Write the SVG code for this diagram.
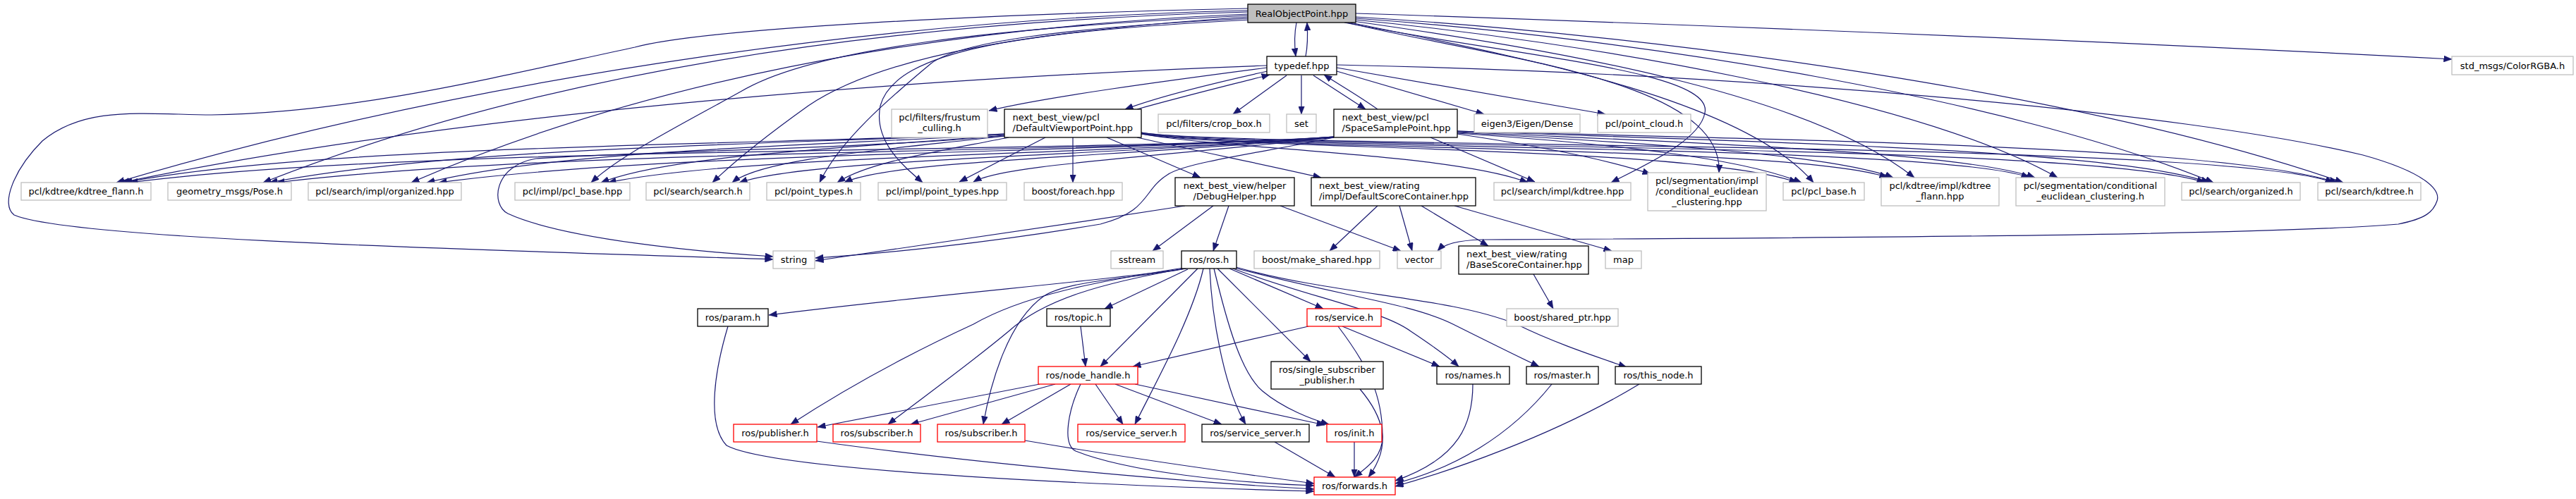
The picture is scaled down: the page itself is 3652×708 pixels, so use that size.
<svg xmlns="http://www.w3.org/2000/svg" width="3652" height="708" viewBox="0 0 3652 708">
<style>
.bg{fill:#fff}
.n rect{fill:#fff;stroke:#bfbfbf;stroke-width:1.3}
.b rect{fill:#fff;stroke:#000;stroke-width:1.3}
.r rect{fill:#fff;stroke:#ff0000;stroke-width:1.3}
.root rect{fill:#bfbfbf;stroke:#000;stroke-width:1.3}
text{font-family:"DejaVu Sans","Liberation Sans",sans-serif;font-size:13px;fill:#000}
.c{text-anchor:middle}
.e{fill:none;stroke:#191970;stroke-width:1.2;marker-end:url(#ah)}
</style>
<defs>
<marker id="ah" markerUnits="userSpaceOnUse" markerWidth="12" markerHeight="9" refX="11.5" refY="4.5" orient="auto">
<path d="M0,0 L11.5,4.5 L0,9 z" fill="#191970" stroke="#191970" stroke-width="0.5"/>
</marker>
</defs>
<rect class="bg" x="0" y="0" width="3652" height="708"/>
<g id="edges">
<!-- A <-> B -->
<path class="e" d="M1838,32 C1835,47 1835,64 1837,80"/>
<path class="e" d="M1851,80 C1854,65 1854,48 1853,32"/>
<!-- A right -->
<path class="e" d="M1922,19 C2500,38 3100,64 3476,84"/>
<path class="e" d="M1922,24 C2350,50 2950,130 3322,259"/>
<path class="e" d="M1922,26 C2330,55 2850,140 3138,259"/>
<path class="e" d="M1921,28 C2250,60 2720,140 2917,252"/>
<path class="e" d="M1918,30 C2200,70 2560,130 2714,252"/>
<path class="e" d="M1914,32 C2150,80 2470,140 2571,259"/>
<path class="e" d="M1910,32 C2100,80 2445,110 2437,245"/>
<path class="e" d="M1906,32 C2150,80 2430,100 2417,160 C2410,200 2330,235 2284,259"/>
<!-- A left -->
<path class="e" d="M1769,15 C1300,25 700,100 165,259"/>
<path class="e" d="M1769,17 C1300,30 800,90 373,259"/>
<path class="e" d="M1769,20 C1300,40 900,120 583,259"/>
<path class="e" d="M1769,22 C1400,40 1150,70 1050,130 C960,180 880,220 838,259"/>
<path class="e" d="M1770,24 C1450,45 1250,80 1146,150 C1090,190 1040,230 1010,259"/>
<path class="e" d="M1771,26 C1500,40 1360,60 1320,90 C1260,140 1190,200 1162,259"/>
<path class="e" d="M1773,28 C1450,45 1270,70 1248,150 C1238,200 1280,235 1308,259"/>
<path class="e" d="M1769,12 C1400,20 1000,40 900,67 C700,110 500,160 300,163 C200,162 120,150 60,200 C20,240 0,290 20,305 C100,340 700,355 1096,368"/>
<!-- B -->
<path class="e" d="M1797,101 C1720,118 1640,138 1595,155"/>
<path class="e" d="M1612,155 C1680,136 1750,119 1800,106"/>
<path class="e" d="M1796,96 C1650,115 1480,138 1402,157"/>
<path class="e" d="M1796,93 C1200,115 600,170 172,259"/>
<path class="e" d="M1824,107 L1748,162"/>
<path class="e" d="M1845,107 L1845,162"/>
<path class="e" d="M1862,107 L1936,155"/>
<path class="e" d="M1953,155 C1925,135 1895,118 1877,106"/>
<path class="e" d="M1895,101 L2104,162"/>
<path class="e" d="M1895,96 L2276,162"/>
<path class="e" d="M1895,92 C2500,105 3100,160 3350,220 C3440,245 3460,270 3455,285 C3450,300 3440,310 3400,318 C3200,335 2500,338 2100,340 C2070,341 2048,345 2038,356"/>
<!-- D left -->
<path class="e" d="M1424,190 C1100,205 450,205 176,259"/>
<path class="e" d="M1424,190 C1100,205 650,208 382,259"/>
<path class="e" d="M1424,191 C1150,207 800,212 605,259"/>
<path class="e" d="M1424,192 C1200,210 950,220 852,259"/>
<path class="e" d="M1424,193 C1250,213 1080,225 1038,259"/>
<path class="e" d="M1430,195 C1330,215 1230,230 1187,259"/>
<path class="e" d="M1482,195 L1360,258"/>
<path class="e" d="M1521,195 L1521,259"/>
<path class="e" d="M1569,195 L1702,252"/>
<path class="e" d="M1612,195 C1700,215 1800,235 1873,252"/>
<path class="e" d="M1424,193 C1200,212 900,215 760,225 C700,235 695,290 720,303 C800,340 1000,358 1096,364"/>
<!-- D right -->
<path class="e" d="M1618,190 C1750,213 2060,218 2166,259"/>
<path class="e" d="M1618,190 C1750,213 2400,206 2548,259"/>
<path class="e" d="M1618,189 C1750,213 2550,206 2676,252"/>
<path class="e" d="M1618,189 C1750,212 2750,204 2877,252"/>
<path class="e" d="M1618,188 C1750,212 2950,200 3126,259"/>
<path class="e" d="M1618,188 C1750,211 3150,198 3308,259"/>
<!-- G left -->
<path class="e" d="M1891,194 C1550,218 600,205 184,259"/>
<path class="e" d="M1891,194 C1550,218 800,210 392,259"/>
<path class="e" d="M1891,194 C1550,218 950,215 622,259"/>
<path class="e" d="M1891,195 C1550,220 1050,220 862,259"/>
<path class="e" d="M1891,195 C1550,222 1150,225 1048,259"/>
<path class="e" d="M1891,195 C1560,224 1260,228 1197,259"/>
<path class="e" d="M1891,195 C1600,226 1420,235 1380,258"/>
<path class="e" d="M1891,195 C1800,215 1680,230 1655,248 C1620,270 1630,300 1560,318 C1400,345 1250,360 1156,366"/>
<path class="e" d="M2028,195 L2176,258"/>
<!-- G right -->
<path class="e" d="M2066,190 C2200,210 2290,230 2340,247"/>
<path class="e" d="M2066,189 C2300,205 2470,225 2554,259"/>
<path class="e" d="M2066,188 C2350,204 2600,220 2684,252"/>
<path class="e" d="M2066,187 C2400,203 2780,215 2885,252"/>
<path class="e" d="M2066,186 C2500,202 3000,212 3132,259"/>
<path class="e" d="M2066,186 C2600,200 3150,208 3314,259"/>
<!-- DebugHelper -->
<path class="e" d="M1680,292 C1500,320 1300,350 1156,370"/>
<path class="e" d="M1720,292 L1634,356"/>
<path class="e" d="M1742,292 L1720,356"/>
<path class="e" d="M1815,292 L1986,356"/>
<!-- DefaultScoreContainer -->
<path class="e" d="M1953,292 L1885,356"/>
<path class="e" d="M1984,292 L2002,356"/>
<path class="e" d="M2015,292 L2110,349"/>
<path class="e" d="M2062,292 L2285,356"/>
<!-- BaseScoreContainer -->
<path class="e" d="M2174,389 L2202,438"/>
<!-- ros.h -->
<path class="e" d="M1680,381 C1600,395 1300,420 1090,447"/>
<path class="e" d="M1684,382 L1566,438"/>
<path class="e" d="M1698,381 L1560,520"/>
<path class="e" d="M1706,381 C1690,450 1640,540 1609,602"/>
<path class="e" d="M1715,381 C1718,450 1735,550 1766,602"/>
<path class="e" d="M1721,381 C1740,460 1760,530 1790,555 C1820,580 1860,595 1884,602"/>
<path class="e" d="M1726,381 L1858,513"/>
<path class="e" d="M1743,381 L1876,438"/>
<path class="e" d="M1748,381 C1850,420 1960,440 2000,470 C2030,490 2055,508 2068,520"/>
<path class="e" d="M1750,380 C1900,420 2000,430 2060,460 C2110,485 2150,505 2182,520"/>
<path class="e" d="M1752,379 C1900,420 2050,420 2150,460 C2200,485 2260,505 2306,521"/>
<path class="e" d="M1678,380 C1550,400 1450,420 1380,460 C1250,520 1170,570 1121,602"/>
<path class="e" d="M1679,381 C1560,402 1480,425 1430,470 C1370,520 1300,570 1259,602"/>
<path class="e" d="M1682,381 C1600,396 1515,398 1480,420 C1430,455 1405,540 1394,602"/>
<!-- topic.h -->
<path class="e" d="M1532,463 L1539,520"/>
<!-- node_handle -->
<path class="e" d="M1474,545 L1159,606"/>
<path class="e" d="M1496,545 L1291,602"/>
<path class="e" d="M1518,545 L1420,602"/>
<path class="e" d="M1553,545 L1592,602"/>
<path class="e" d="M1581,545 L1732,602"/>
<path class="e" d="M1609,545 L1878,603"/>
<path class="e" d="M1532,545 C1515,580 1505,630 1525,640 C1600,670 1750,685 1863,689"/>
<!-- service.h -->
<path class="e" d="M1855,463 L1606,520"/>
<path class="e" d="M1903,463 L2041,520"/>
<path class="e" d="M1897,463 C1940,520 1960,560 1960,620 C1960,650 1935,665 1920,677"/>
<!-- into forwards -->
<path class="e" d="M1032,463 C1015,520 1000,600 1030,632 C1100,670 1600,690 1863,697"/>
<path class="e" d="M1158,626 C1400,660 1700,685 1863,694"/>
<path class="e" d="M1453,625 C1600,650 1780,675 1863,686"/>
<path class="e" d="M1928,552 C1960,590 1975,630 1940,677"/>
<path class="e" d="M1807,627 L1893,677"/>
<path class="e" d="M1920,627 L1920,677"/>
<path class="e" d="M2088,545 C2088,600 2070,650 1978,682"/>
<path class="e" d="M2200,545 C2140,620 2060,665 1978,686"/>
<path class="e" d="M2324,545 C2200,620 2050,670 1978,690"/>
</g>
<g id="n_realobjectpoint" class="root"><rect x="1769" y="6" width="153" height="26"/><text class="c" x="1845.5" y="23.5">RealObjectPoint.hpp</text></g>
<g id="n_typedef" class="b"><rect x="1796" y="80" width="99" height="26"/><text class="c" x="1845.5" y="97.5">typedef.hpp</text></g>
<g id="n_frustum" class="n"><rect x="1264" y="155" width="136" height="40"/><text class="c" x="1332" y="171">pcl/filters/frustum</text><text class="c" x="1332" y="186">_culling.h</text></g>
<g id="n_defaultviewport" class="b"><rect x="1424" y="155" width="194" height="40"/><text x="1435.5" y="171">next_best_view/pcl</text><text x="1435.5" y="186">/DefaultViewportPoint.hpp</text></g>
<g id="n_cropbox" class="n"><rect x="1642" y="162" width="158" height="26"/><text class="c" x="1721" y="179.5">pcl/filters/crop_box.h</text></g>
<g id="n_set" class="n"><rect x="1824" y="162" width="42" height="26"/><text class="c" x="1845" y="179.5">set</text></g>
<g id="n_spacesample" class="b"><rect x="1891" y="155" width="175" height="40"/><text x="1902.5" y="171">next_best_view/pcl</text><text x="1902.5" y="186">/SpaceSamplePoint.hpp</text></g>
<g id="n_eigen" class="n"><rect x="2090" y="162" width="150" height="26"/><text class="c" x="2165" y="179.5">eigen3/Eigen/Dense</text></g>
<g id="n_pointcloud" class="n"><rect x="2265" y="162" width="132" height="26"/><text class="c" x="2331" y="179.5">pcl/point_cloud.h</text></g>
<g id="n_colorrgba" class="n"><rect x="3476" y="80" width="172" height="26"/><text class="c" x="3562" y="97.5">std_msgs/ColorRGBA.h</text></g>
<g id="n_kdtreeflann_h" class="n"><rect x="30" y="259" width="184" height="25"/><text class="c" x="122" y="276">pcl/kdtree/kdtree_flann.h</text></g>
<g id="n_pose" class="n"><rect x="238" y="259" width="175" height="25"/><text class="c" x="325.5" y="276">geometry_msgs/Pose.h</text></g>
<g id="n_organized_hpp" class="n"><rect x="437" y="259" width="217" height="25"/><text class="c" x="545.5" y="276">pcl/search/impl/organized.hpp</text></g>
<g id="n_pclbase_hpp" class="n"><rect x="730" y="259" width="163" height="25"/><text class="c" x="811.5" y="276">pcl/impl/pcl_base.hpp</text></g>
<g id="n_search_h" class="n"><rect x="916" y="259" width="147" height="25"/><text class="c" x="989.5" y="276">pcl/search/search.h</text></g>
<g id="n_pointtypes_h" class="n"><rect x="1087" y="259" width="133" height="25"/><text class="c" x="1153.5" y="276">pcl/point_types.h</text></g>
<g id="n_pointtypes_hpp" class="n"><rect x="1245" y="259" width="182" height="25"/><text class="c" x="1336" y="276">pcl/impl/point_types.hpp</text></g>
<g id="n_foreach" class="n"><rect x="1452" y="259" width="139" height="25"/><text class="c" x="1521.5" y="276">boost/foreach.hpp</text></g>
<g id="n_debughelper" class="b"><rect x="1666" y="252" width="169" height="40"/><text class="c" x="1750.5" y="268">next_best_view/helper</text><text class="c" x="1750.5" y="283">/DebugHelper.hpp</text></g>
<g id="n_defaultscore" class="b"><rect x="1859" y="252" width="233" height="40"/><text x="1870" y="268">next_best_view/rating</text><text x="1870" y="283">/impl/DefaultScoreContainer.hpp</text></g>
<g id="n_kdtree_hpp" class="n"><rect x="2118" y="259" width="194" height="25"/><text class="c" x="2215" y="276">pcl/search/impl/kdtree.hpp</text></g>
<g id="n_cec_hpp" class="n"><rect x="2336" y="245" width="168" height="54"/><text class="c" x="2420" y="261">pcl/segmentation/impl</text><text class="c" x="2420" y="276">/conditional_euclidean</text><text class="c" x="2420" y="291">_clustering.hpp</text></g>
<g id="n_pclbase_h" class="n"><rect x="2528" y="259" width="115" height="25"/><text class="c" x="2585.5" y="276">pcl/pcl_base.h</text></g>
<g id="n_kdtreeflann_hpp" class="n"><rect x="2667" y="252" width="167" height="40"/><text class="c" x="2750.5" y="268">pcl/kdtree/impl/kdtree</text><text class="c" x="2750.5" y="283">_flann.hpp</text></g>
<g id="n_cec_h" class="n"><rect x="2858" y="252" width="211" height="40"/><text class="c" x="2963.5" y="268">pcl/segmentation/conditional</text><text class="c" x="2963.5" y="283">_euclidean_clustering.h</text></g>
<g id="n_organized_h" class="n"><rect x="3093" y="259" width="168" height="25"/><text class="c" x="3177" y="276">pcl/search/organized.h</text></g>
<g id="n_kdtree_h" class="n"><rect x="3286" y="259" width="146" height="25"/><text class="c" x="3359" y="276">pcl/search/kdtree.h</text></g>
<g id="n_string" class="n"><rect x="1096" y="356" width="59" height="25"/><text class="c" x="1125.5" y="373">string</text></g>
<g id="n_sstream" class="n"><rect x="1575" y="356" width="74" height="25"/><text class="c" x="1612" y="373">sstream</text></g>
<g id="n_ros" class="b"><rect x="1675" y="356" width="78" height="25"/><text class="c" x="1714" y="373">ros/ros.h</text></g>
<g id="n_makeshared" class="n"><rect x="1778" y="356" width="178" height="25"/><text class="c" x="1867" y="373">boost/make_shared.hpp</text></g>
<g id="n_vector" class="n"><rect x="1981" y="356" width="62" height="25"/><text class="c" x="2012" y="373">vector</text></g>
<g id="n_basescore" class="b"><rect x="2068" y="349" width="184" height="40"/><text x="2079" y="365">next_best_view/rating</text><text x="2079" y="380">/BaseScoreContainer.hpp</text></g>
<g id="n_map" class="n"><rect x="2276" y="356" width="51" height="25"/><text class="c" x="2301.5" y="373">map</text></g>
<g id="n_param" class="b"><rect x="989" y="438" width="100" height="25"/><text class="c" x="1039" y="455">ros/param.h</text></g>
<g id="n_topic" class="b"><rect x="1484" y="438" width="90" height="25"/><text class="c" x="1529" y="455">ros/topic.h</text></g>
<g id="n_service" class="r"><rect x="1853" y="438" width="105" height="25"/><text class="c" x="1905.5" y="455">ros/service.h</text></g>
<g id="n_sharedptr" class="n"><rect x="2136" y="438" width="158" height="25"/><text class="c" x="2215" y="455">boost/shared_ptr.hpp</text></g>
<g id="n_nodehandle" class="r"><rect x="1472" y="520" width="141" height="25"/><text class="c" x="1542.5" y="537">ros/node_handle.h</text></g>
<g id="n_singlesub" class="b"><rect x="1802" y="513" width="159" height="39"/><text class="c" x="1881.5" y="529">ros/single_subscriber</text><text class="c" x="1881.5" y="544">_publisher.h</text></g>
<g id="n_names" class="b"><rect x="2037" y="520" width="103" height="25"/><text class="c" x="2088.5" y="537">ros/names.h</text></g>
<g id="n_master" class="b"><rect x="2164" y="520" width="102" height="25"/><text class="c" x="2215" y="537">ros/master.h</text></g>
<g id="n_thisnode" class="b"><rect x="2290" y="520" width="122" height="25"/><text class="c" x="2351" y="537">ros/this_node.h</text></g>
<g id="n_publisher" class="r"><rect x="1040" y="602" width="118" height="25"/><text class="c" x="1099" y="619">ros/publisher.h</text></g>
<g id="n_subscriber1" class="r"><rect x="1181" y="602" width="124" height="25"/><text class="c" x="1243" y="619">ros/subscriber.h</text></g>
<g id="n_subscriber2" class="r"><rect x="1329" y="602" width="124" height="25"/><text class="c" x="1391" y="619">ros/subscriber.h</text></g>
<g id="n_serviceserver1" class="r"><rect x="1528" y="602" width="152" height="25"/><text class="c" x="1604" y="619">ros/service_server.h</text></g>
<g id="n_serviceserver2" class="b"><rect x="1704" y="602" width="152" height="25"/><text class="c" x="1780" y="619">ros/service_server.h</text></g>
<g id="n_init" class="r"><rect x="1881" y="602" width="78" height="25"/><text class="c" x="1920" y="619">ros/init.h</text></g>
<g id="n_forwards" class="r"><rect x="1863" y="677" width="115" height="25"/><text class="c" x="1920.5" y="694">ros/forwards.h</text></g>
</svg>
